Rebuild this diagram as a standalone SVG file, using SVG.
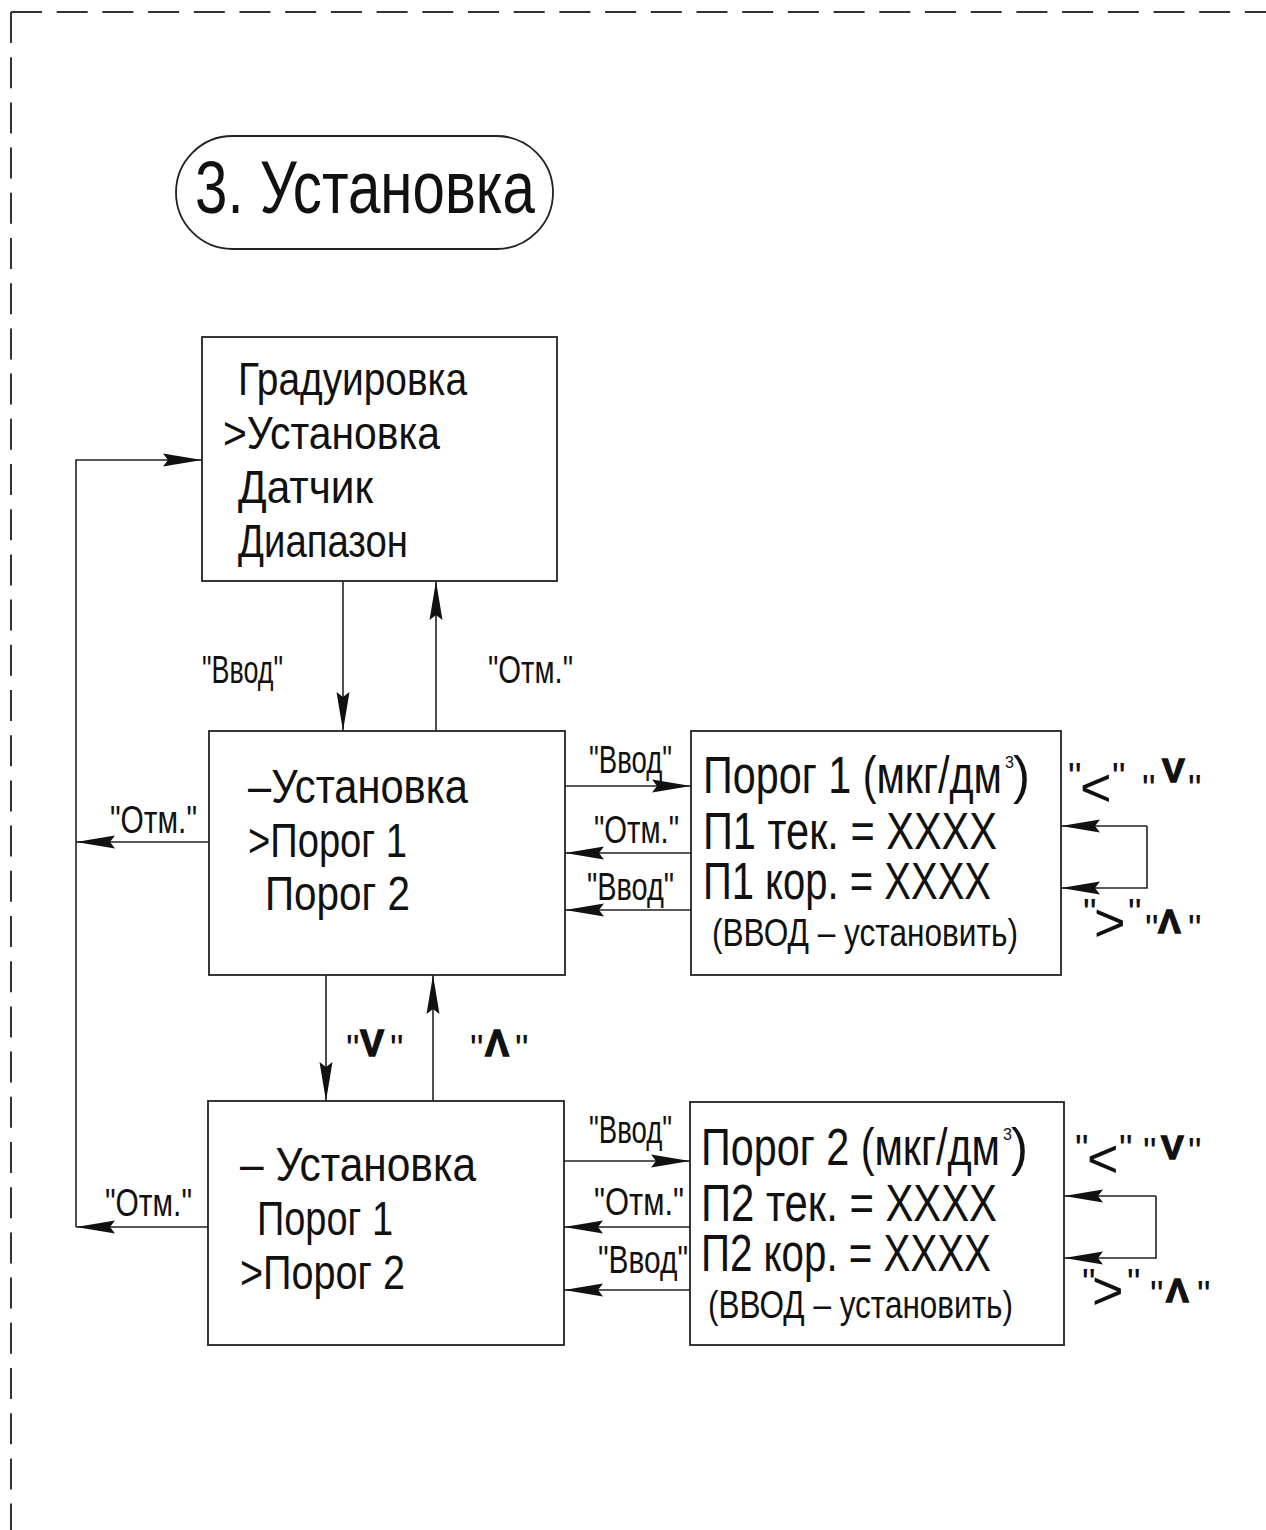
<svg xmlns="http://www.w3.org/2000/svg" width="1266" height="1530" viewBox="0 0 1266 1530">
<style>
.b{fill:#fff;stroke:#222;stroke-width:1.8}
.c{fill:none;stroke:#222;stroke-width:1.6}
.a{marker-end:url(#ah)}
.fr{fill:none;stroke:#333;stroke-width:2}
.t{font-family:"Liberation Sans",Arial,sans-serif;fill:#111}
.s47{font-size:47px}
.s49{font-size:49px}
.s51{font-size:51px}
.s39{font-size:39px}
.s38{font-size:38px}
.sup{font-size:16px}
.bd{font-weight:bold;stroke:#111;stroke-width:1.4}
</style>
<defs>
<marker id="ah" markerUnits="userSpaceOnUse" markerWidth="40" markerHeight="14" viewBox="0 0 40 14" refX="39" refY="7" orient="auto">
<path d="M0,0.5 L39,7 L0,13.5 L5,7 Z" fill="#111"/>
</marker>
</defs>
<rect width="1266" height="1530" fill="#fff"/>
<g id="frame">
<path class="fr" d="M11,12 L1266,12" stroke-dasharray="31 14.7"/>
<path class="fr" d="M11,12 L11,1530" stroke-dasharray="31 14.2"/>
</g>
<g id="title">
<rect class="b" x="176" y="136" width="377" height="113" rx="56.5" ry="56.5"/>
<text class="t" x="195" y="213" font-size="74" textLength="340" lengthAdjust="spacingAndGlyphs">3. Установка</text>
</g>
<g id="menu-main">
<rect class="b" x="202" y="337" width="355" height="244"/>
<text class="t s47" x="238" y="395" textLength="229" lengthAdjust="spacingAndGlyphs">Градуировка</text>
<text class="t s47" x="223" y="449" textLength="217" lengthAdjust="spacingAndGlyphs">&gt;Установка</text>
<text class="t s47" x="238" y="503" textLength="135" lengthAdjust="spacingAndGlyphs">Датчик</text>
<text class="t s47" x="238" y="557" textLength="170" lengthAdjust="spacingAndGlyphs">Диапазон</text>
</g>
<g id="menu-porog1">
<rect class="b" x="209" y="731" width="356" height="244"/>
<text class="t s49" x="248" y="803" textLength="220" lengthAdjust="spacingAndGlyphs">–Установка</text>
<text class="t s49" x="248" y="857" textLength="159" lengthAdjust="spacingAndGlyphs">&gt;Порог 1</text>
<text class="t s49" x="265" y="910" textLength="145" lengthAdjust="spacingAndGlyphs">Порог 2</text>
</g>
<g id="set-porog1">
<rect class="b" x="691" y="731" width="370" height="244"/>
<text class="t s51" x="703" y="793" textLength="299" lengthAdjust="spacingAndGlyphs">Порог 1 (мкг/дм</text>
<text class="t sup" x="1005" y="768">3</text>
<text class="t s51" x="1013" y="793">)</text>
<text class="t s51" x="703" y="849" textLength="294" lengthAdjust="spacingAndGlyphs">П1 тек. = XXXX</text>
<text class="t s51" x="703" y="899" textLength="288" lengthAdjust="spacingAndGlyphs">П1 кор. = XXXX</text>
<text class="t s39" x="712" y="946" textLength="306" lengthAdjust="spacingAndGlyphs">(ВВОД – установить)</text>
</g>
<g id="menu-porog2">
<rect class="b" x="208" y="1101" width="356" height="244"/>
<text class="t s49" x="240" y="1181" textLength="236" lengthAdjust="spacingAndGlyphs">– Установка</text>
<text class="t s49" x="257" y="1235" textLength="136" lengthAdjust="spacingAndGlyphs">Порог 1</text>
<text class="t s49" x="240" y="1289" textLength="165" lengthAdjust="spacingAndGlyphs">&gt;Порог 2</text>
</g>
<g id="set-porog2">
<rect class="b" x="690" y="1102" width="374" height="243"/>
<text class="t s51" x="701" y="1165" textLength="299" lengthAdjust="spacingAndGlyphs">Порог 2 (мкг/дм</text>
<text class="t sup" x="1003" y="1140">3</text>
<text class="t s51" x="1011" y="1165">)</text>
<text class="t s51" x="701" y="1221" textLength="296" lengthAdjust="spacingAndGlyphs">П2 тек. = XXXX</text>
<text class="t s51" x="701" y="1271" textLength="290" lengthAdjust="spacingAndGlyphs">П2 кор. = XXXX</text>
<text class="t s39" x="708" y="1318" textLength="305" lengthAdjust="spacingAndGlyphs">(ВВОД – установить)</text>
</g>
<g id="connectors">
<path class="c a" d="M343,581 L343,731"/>
<path class="c a" d="M436,731 L436,581"/>
<path class="c a" d="M565,786 L691,786"/>
<path class="c a" d="M691,853 L565,853"/>
<path class="c a" d="M691,910 L565,910"/>
<path class="c a" d="M1147,826 L1061,826"/>
<path class="c a" d="M1147,826 L1147,888 L1061,888"/>
<path class="c a" d="M209,842 L76,842"/>
<path class="c a" d="M76,1227 L76,460 L202,460"/>
<path class="c a" d="M208,1227 L76,1227"/>
<path class="c a" d="M326,975 L326,1101"/>
<path class="c a" d="M433,1101 L433,975"/>
<path class="c a" d="M564,1161 L690,1161"/>
<path class="c a" d="M690,1227 L564,1227"/>
<path class="c a" d="M690,1290 L564,1290"/>
<path class="c a" d="M1156,1196 L1064,1196"/>
<path class="c a" d="M1156,1196 L1156,1258 L1064,1258"/>
<text class="t s38" x="202" y="683" textLength="81" lengthAdjust="spacingAndGlyphs">"Ввод"</text>
<text class="t s38" x="488" y="683" textLength="85" lengthAdjust="spacingAndGlyphs">"Отм."</text>
<text class="t s38" x="110" y="833" textLength="87" lengthAdjust="spacingAndGlyphs">"Отм."</text>
<text class="t s38" x="589" y="773" textLength="83" lengthAdjust="spacingAndGlyphs">"Ввод"</text>
<text class="t s38" x="594" y="843" textLength="85" lengthAdjust="spacingAndGlyphs">"Отм."</text>
<text class="t s38" x="587" y="900" textLength="87" lengthAdjust="spacingAndGlyphs">"Ввод"</text>
<text class="t s38" x="105" y="1216" textLength="87" lengthAdjust="spacingAndGlyphs">"Отм."</text>
<text class="t s38" x="589" y="1143" textLength="83" lengthAdjust="spacingAndGlyphs">"Ввод"</text>
<text class="t s38" x="594" y="1215" textLength="90" lengthAdjust="spacingAndGlyphs">"Отм."</text>
<text class="t s38" x="598" y="1273" textLength="90" lengthAdjust="spacingAndGlyphs">"Ввод"</text>
<text class="t s38"><tspan x="346" y="1062">"</tspan><tspan class="bd" font-size="36" x="360" y="1056">V</tspan><tspan x="390" y="1062">"</tspan></text>
<text class="t s38"><tspan x="470" y="1062">"</tspan><tspan class="bd" font-size="36" x="485" y="1056">Λ</tspan><tspan x="515" y="1062">"</tspan></text>
<text class="t s38"><tspan x="1068" y="790">"</tspan><tspan font-size="54" x="1080" y="806">&lt;</tspan><tspan x="1112" y="790">"</tspan></text>
<text class="t s38"><tspan x="1142" y="802">"</tspan><tspan class="bd" font-size="34" x="1162" y="782">V</tspan><tspan x="1188" y="802">"</tspan></text>
<text class="t s38"><tspan x="1083" y="926">"</tspan><tspan font-size="54" x="1094" y="941">&gt;</tspan><tspan x="1128" y="926">"</tspan></text>
<text class="t s38"><tspan x="1145" y="942">"</tspan><tspan class="bd" font-size="34" x="1158" y="933">Λ</tspan><tspan x="1188" y="942">"</tspan></text>
<text class="t s38"><tspan x="1075" y="1162">"</tspan><tspan font-size="54" x="1087" y="1177">&lt;</tspan><tspan x="1119" y="1162">"</tspan></text>
<text class="t s38"><tspan x="1143" y="1165">"</tspan><tspan class="bd" font-size="34" x="1161" y="1159">V</tspan><tspan x="1188" y="1165">"</tspan></text>
<text class="t s38"><tspan x="1082" y="1296">"</tspan><tspan font-size="54" x="1092" y="1309">&gt;</tspan><tspan x="1127" y="1296">"</tspan></text>
<text class="t s38"><tspan x="1150" y="1308">"</tspan><tspan class="bd" font-size="34" x="1166" y="1302">Λ</tspan><tspan x="1197" y="1308">"</tspan></text>
</g>
</svg>
